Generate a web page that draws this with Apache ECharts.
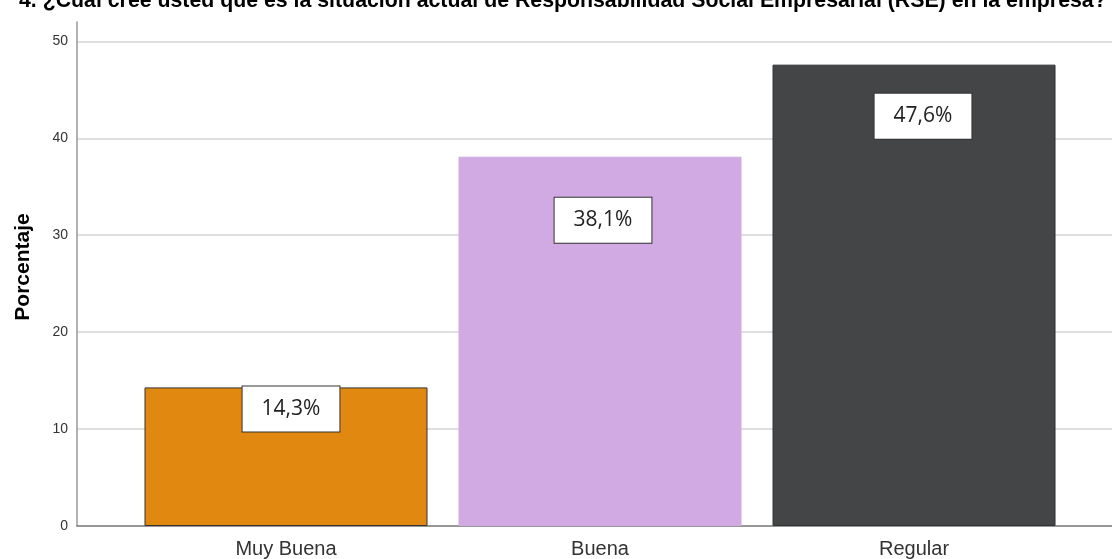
<!DOCTYPE html>
<html>
<head>
<meta charset="utf-8">
<script src="https://cdn.jsdelivr.net/npm/echarts@6/dist/echarts.min.js"></script>
<style>html,body{margin:0;padding:0;background:#fff}#c{width:1112px;height:559px}</style>
</head>
<body>
<div id="c"></div>
<script>
const titleText = '4. ¿Cuál cree usted que es la situación actual de Responsabilidad Social Empresarial (RSE) en la empresa?';
const categories = ['Muy Buena', 'Buena', 'Regular'];
const values = [14.3, 38.1, 47.6];
const labels = ['14,3%', '38,1%', '47,6%'];
const yTicks = [0, 10, 20, 30, 40, 50];

// styles (not data)
const barColors = ['#E0880F', '#D1AAE3', '#444547'];
const barBorders = ['#333333', '#D1AAE3', '#333333'];
const labelDrop = [-1, 41, 29];
const labelShift = [5, 3, 9];

const chart = echarts.init(document.getElementById('c'), null, {renderer: 'canvas'});
chart.setOption({
  animation: false,
  title: {
    text: titleText, left: 14, top: -14,
    textStyle: {fontFamily: 'Liberation Sans', fontWeight: 'bold', fontSize: 21.3, color: '#000'}
  },
  grid: {left: 77, right: 0, top: 22, bottom: 33},
  xAxis: {
    type: 'value', min: 0.3344, max: 3.6305,
    axisLine: {show: true, onZero: false, lineStyle: {color: '#808080', width: 1.5}},
    axisTick: {show: false},
    splitLine: {show: false},
    axisLabel: {
      customValues: [1, 2, 3],
      formatter: v => categories[Math.round(v) - 1] || '',
      fontFamily: 'Liberation Sans', fontSize: 20, color: '#333', margin: 13
    }
  },
  yAxis: {
    type: 'value', min: 0, max: 52, interval: 10,
    name: 'Porcentaje', nameLocation: 'middle', nameGap: 43,
    nameTextStyle: {fontFamily: 'Liberation Sans', fontWeight: 'bold', fontSize: 21, color: '#000', padding: [0, 0, 0, 14]},
    axisLine: {show: true, lineStyle: {color: '#999', width: 1.5}},
    axisTick: {show: false},
    axisLabel: {
      customValues: yTicks,
      fontFamily: 'Liberation Sans', fontSize: 14, color: '#333', margin: 9
    },
    splitLine: {show: true, showMaxLine: false, lineStyle: {color: '#D4D4D4', width: 1.5}}
  },
  series: [{
    type: 'bar',
    barWidth: 283,
    data: values.map((v, i) => ({
      value: [i + 1, v],
      itemStyle: {color: barColors[i], borderColor: barBorders[i], borderWidth: 1},
      label: {distance: labelDrop[i], offset: [labelShift[i], 0]}
    })),
    label: {
      show: true, position: 'insideTop',
      formatter: p => labels[p.dataIndex],
      backgroundColor: '#fff', borderColor: '#333', borderWidth: 1,
      padding: [12, 19, 12, 19],
      fontFamily: 'Open Sans', fontSize: 21, color: '#222'
    }
  }]
});
</script>
</body>
</html>
